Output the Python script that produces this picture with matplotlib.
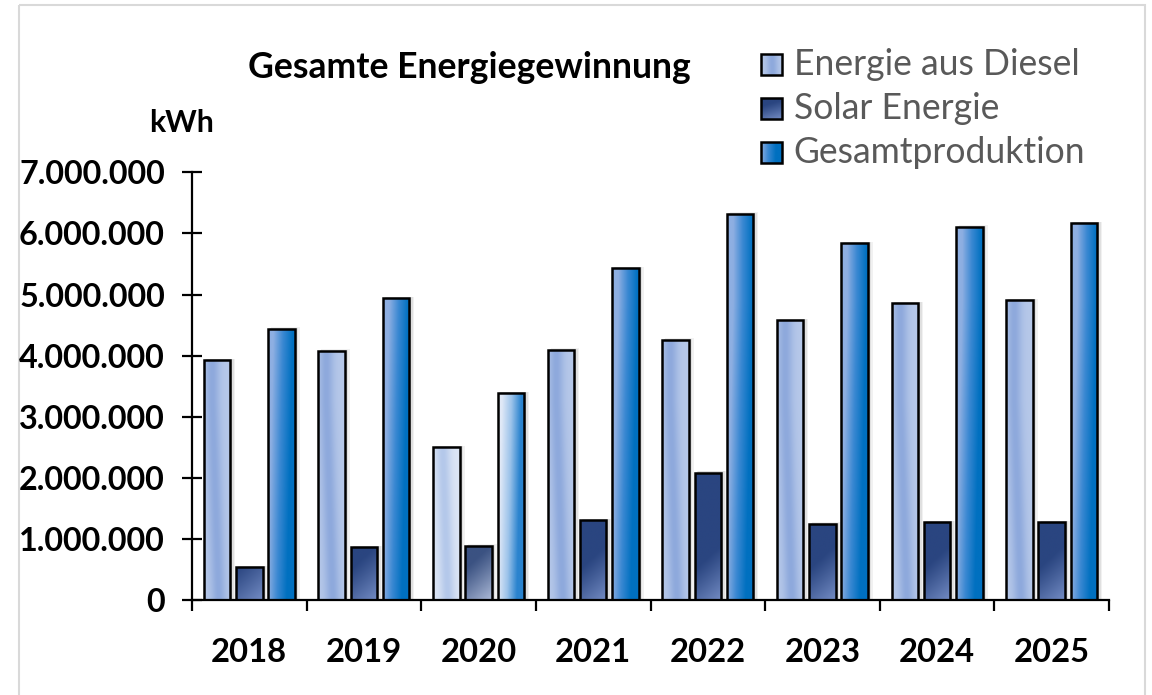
import numpy as np
import matplotlib
matplotlib.use('Agg')
import matplotlib.pyplot as plt
from matplotlib.colors import LinearSegmentedColormap, to_rgb
from matplotlib.patches import Rectangle
from matplotlib.ticker import FixedLocator, FuncFormatter

# ---------------- data ----------------
years = ['2018', '2019', '2020', '2021', '2022', '2023', '2024', '2025']
diesel = [3930000, 4080000, 2500000, 4100000, 4260000, 4580000, 4860000, 4910000]
solar = [540000, 870000, 890000, 1310000, 2090000, 1250000, 1280000, 1280000]
total = [4440000, 4940000, 3390000, 5430000, 6320000, 5840000, 6110000, 6170000]
series_names = ['Energie aus Diesel', 'Solar Energie', 'Gesamtproduktion']
title = 'Gesamte Energiegewinnung'
unit_label = 'kWh'
y_ticks = [0, 1000000, 2000000, 3000000, 4000000, 5000000, 6000000, 7000000]

plt.rcParams['font.family'] = ['Lato', 'DejaVu Sans']

W, H = 1152, 695
fig = plt.figure(figsize=(W / 100, H / 100), dpi=100)
fig.patch.set_facecolor('white')

# overlay axes in pixel coordinates (frame, title, legend)
ov = fig.add_axes([0, 0, 1, 1], zorder=0)
ov.set_xlim(0, W)
ov.set_ylim(H, 0)
ov.axis('off')

ax = fig.add_axes([192 / W, 1 - 600.3 / H, (1109 - 192) / W, (600.3 - 172.3) / H], zorder=1)
ax.patch.set_alpha(0)

YMAX = 7000000
ax.set_xlim(-0.5, len(years) - 0.5)
ax.set_ylim(0, YMAX)

px_x = 1.0 / 114.6            # one pixel in x data units
px_y = YMAX / 428.0           # one pixel in y data units

bar_w = 26.5 * px_x
step = 32.2 * px_x


def make_color_field(kind, special, wpx, hpx, nx=40, ny=200):
    u = np.linspace(0, 1, nx)[None, :]
    v = np.linspace(0, 1, ny)[:, None]        # 0 bottom, 1 top
    ypx = v * hpx
    xpx = u * wpx
    if kind == 0:  # diesel
        if special:
            light = np.array(to_rgb('#DDE6F5'))
            dark = np.array(to_rgb('#B4C8EA'))
        else:
            light = np.array(to_rgb('#B6C8E9'))
            dark = np.array(to_rgb('#8EA9DC'))
        c = 0.55 - 0.25 * np.clip(ypx / 200.0, 0, 1)
        f = np.exp(-((u - c) / 0.28) ** 2)
        f = f * np.ones_like(v)
        img = light[None, None, :] * (1 - f[..., None]) + dark[None, None, :] * f[..., None]
    elif kind == 1:  # solar
        if special:
            light = np.array(to_rgb('#B3C0DC'))
            dark = np.array(to_rgb('#3B5282'))
        else:
            light = np.array(to_rgb('#8199D0'))
            dark = np.array(to_rgb('#2A4580'))
        f = np.clip(1 - (ypx + 0.9 * (wpx - xpx)) / 55.0, 0, 1)
        f = f ** 1.1 * (0.95 if special else 0.85)
        img = dark[None, None, :] * (1 - f[..., None]) + light[None, None, :] * f[..., None]
    else:  # total
        if special:
            c0, c1, c2 = to_rgb('#E1E9F7'), to_rgb('#9CC3EA'), to_rgb('#2A83CE')
        else:
            c0, c1, c2 = to_rgb('#8EAFE2'), to_rgb('#3A88D2'), to_rgb('#0070C0')
        s = np.clip(u * 1.35 - 0.35 * np.clip(ypx / 300.0, 0, 1) + 0.05, 0, 1)
        s = s * np.ones_like(v)
        cm = LinearSegmentedColormap.from_list('g', [c0, c1, c2])
        img = cm(s)[..., :3]
    return img


def draw_bar(x0, h, kind, special):
    wpx = bar_w / px_x
    hpx = h / px_y
    # soft shadow
    for off, a in [(5, 0.10), (3.5, 0.14), (2, 0.18)]:
        ax.add_patch(Rectangle((x0 + off * px_x * 0.6, 0), bar_w + off * px_x * 0.4,
                               h + off * px_y * 0.3, facecolor='#7F7F7F', edgecolor='none',
                               alpha=a, zorder=2))
    rect = Rectangle((x0, 0), bar_w, h, facecolor='none', edgecolor='black',
                     linewidth=1.8, zorder=4)
    ax.add_patch(rect)
    img = make_color_field(kind, special, wpx, hpx)
    im = ax.imshow(img, extent=(x0, x0 + bar_w, 0, h), origin='lower', aspect='auto',
                   interpolation='bilinear', zorder=3)
    im.set_clip_path(rect)


series = [diesel, solar, total]
for i, yr in enumerate(years):
    special = (yr == '2020')
    for k, vals in enumerate(series):
        x0 = i + (k - 1) * step - bar_w / 2
        draw_bar(x0, vals[i], k, special)

ax.set_xlim(-0.5, len(years) - 0.5)
ax.set_ylim(0, YMAX)

for s in ['top', 'right']:
    ax.spines[s].set_visible(False)
for s in ['left', 'bottom']:
    ax.spines[s].set_linewidth(1.6)
    ax.spines[s].set_color('black')
ax.spines['bottom'].set_zorder(6)

ax.yaxis.set_major_locator(FixedLocator(y_ticks))
ax.yaxis.set_major_formatter(FuncFormatter(lambda v, p: f'{v:,.0f}'.replace(',', '.')))
ax.tick_params(axis='y', direction='inout', length=15, width=1.6, pad=12,
               labelsize=23.3, colors='black')
for lab in ax.get_yticklabels():
    lab.set_fontweight('bold')

ax.set_xticks(range(len(years)))
ax.set_xticklabels(years, fontsize=23.6, fontweight='bold')
ax.set_xticks(np.arange(-0.5, len(years), 1.0), minor=True)
ax.tick_params(axis='x', which='major', length=0, pad=27)
ax.tick_params(axis='x', which='minor', direction='out', length=8, width=1.6)

# frame
ov.add_patch(Rectangle((18.5, 5), 1145 - 18.5, 720, facecolor='none',
                       edgecolor='#D9D9D9', linewidth=1.5))

# title and unit
ov.text(469, 78, title, ha='center', va='baseline', fontsize=25.6, fontweight='bold', color='black')
ov.text(181.5, 132, unit_label, ha='center', va='baseline', fontsize=21.7, fontweight='bold', color='black')

# legend (manual)
leg_rows = [64.7, 108.7, 152.8]
for k, name in enumerate(series_names):
    yc = leg_rows[k]
    sq = Rectangle((761, yc - 10.5), 21, 21, facecolor='none', edgecolor='black', linewidth=1.8, zorder=3)
    ov.add_patch(sq)
    img = make_color_field(k, False, 21, 60 if k == 1 else 21)
    im = ov.imshow(img, extent=(761, 782, yc + 10.5, yc - 10.5), origin='lower', aspect='auto',
                   interpolation='bilinear', zorder=2)
    im.set_clip_path(sq)
    ov.text(793.5, yc + 10.5, name, ha='left', va='baseline', fontsize=25.6, color='#595959')
ov.set_xlim(0, W)
ov.set_ylim(H, 0)

fig.savefig('out.png', dpi=100)
